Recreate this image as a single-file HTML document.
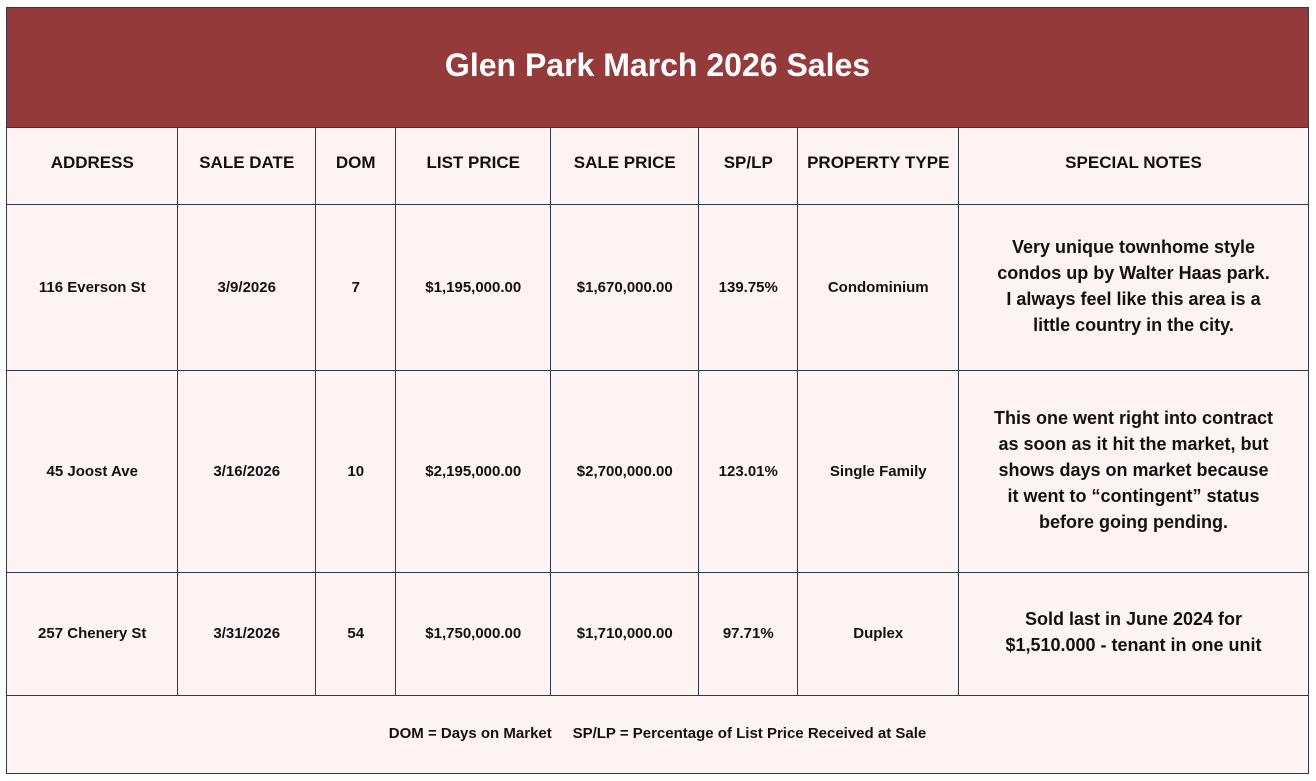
<!DOCTYPE html>
<html><head><meta charset="utf-8"><style>
body{margin:0;width:1316px;height:781px;background:#fff;font-family:"Liberation Sans",sans-serif;position:relative;overflow:hidden}
.b{position:absolute;background:#fdf3f2;box-sizing:border-box;border:1.5px solid #2e3a48;display:flex;align-items:center;justify-content:center;text-align:center;color:#111;font-size:15px;font-weight:bold;line-height:26px}
.h{font-size:17px;font-weight:bold;padding-bottom:6px}
.n{font-size:18px;line-height:26px;padding-bottom:4px}
#title{position:absolute;left:6px;top:7px;width:1303px;height:121px;background:#943a3a;border:1.5px solid #2e3a48;box-sizing:border-box;color:#fff;font-size:32px;font-weight:bold;display:flex;align-items:center;justify-content:center;padding-bottom:4px}
</style></head><body>
<div id="title">Glen Park March 2026 Sales</div>
<div id="t"></div>
<script>
const cols=[6,177,315,395,550,698,797,958,1307.5];
const rows=[127,204,370,572,695];
const headers=["ADDRESS","SALE DATE","DOM","LIST PRICE","SALE PRICE","SP/LP","PROPERTY TYPE","SPECIAL NOTES"];
const data=[
["116 Everson St","3/9/2026","7","$1,195,000.00","$1,670,000.00","139.75%","Condominium","Very unique townhome style<br>condos up by Walter Haas park.<br>I always feel like this area is a<br>little country in the city."],
["45 Joost Ave","3/16/2026","10","$2,195,000.00","$2,700,000.00","123.01%","Single Family","This one went right into contract<br>as soon as it hit the market, but<br>shows days on market because<br>it went to “contingent” status<br>before going pending."],
["257 Chenery St","3/31/2026","54","$1,750,000.00","$1,710,000.00","97.71%","Duplex","Sold last in June 2024 for<br>$1,510.000 - tenant in one unit"]];
const t=document.getElementById('t');
function cell(x0,x1,y0,y1,html,cls,name){
 const d=document.createElement('div');d.className='b '+cls;
 d.style.cssText=`left:${x0}px;top:${y0}px;width:${x1-x0+1.5}px;height:${y1-y0+1.5}px`;
 d.innerHTML=html;
 
 
 t.appendChild(d);}
headers.forEach((h,i)=>cell(cols[i],cols[i+1],rows[0],rows[1],h,'h','header-'+i));
data.forEach((r,j)=>r.forEach((v,i)=>cell(cols[i],cols[i+1],rows[j+1],rows[j+2],v,i==7?'n':'','cell-r'+j+'-c'+i)));
cell(cols[0],cols[8],695,772,'DOM = Days on Market &nbsp;&nbsp;&nbsp; SP/LP = Percentage of List Price Received at Sale','','footnote');
</script>
</body></html>
